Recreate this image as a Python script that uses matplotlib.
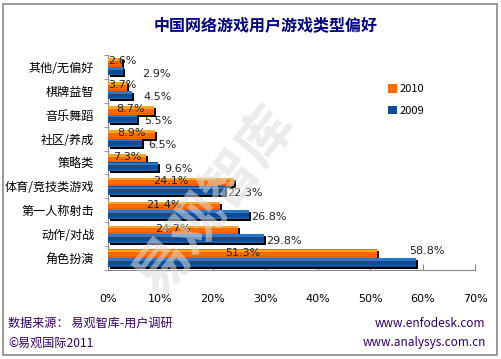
import matplotlib.pyplot as plt
import matplotlib.transforms as mtransforms
import numpy as np

plt.rcParams['font.family'] = ['Noto Sans CJK SC', 'DejaVu Sans']

categories = ["其他/无偏好", "棋牌益智", "音乐舞蹈", "社区/养成", "策略类",
              "体育/竞技类游戏", "第一人称射击", "动作/对战", "角色扮演"]
values_2010 = [2.6, 3.7, 8.7, 8.9, 7.3, 24.1, 21.4, 24.7, 51.3]
values_2009 = [2.9, 4.5, 5.5, 6.5, 9.6, 22.3, 26.8, 29.8, 58.8]
xticks_vals = [0, 10, 20, 30, 40, 50, 60, 70]

fig = plt.figure(figsize=(5.01, 3.59), dpi=100)
ax = fig.add_axes([0.2156, 0.248, 0.7325, 0.599])

y = np.arange(len(categories))
h = 0.36
shadow = ax.transData + mtransforms.ScaledTranslation(2 / 100, -2 / 100, fig.dpi_scale_trans)


def fancy_bars(yc, vals, colors, label):
    # black shadow, then main bar, then a lighter top strip and darker bottom strip
    sb = ax.barh(yc, vals, height=h, color="black", zorder=2)
    for p in sb:
        p.set_transform(shadow)
    ax.barh(yc, vals, height=h, color=colors[1], zorder=3, label=label)
    ax.barh(yc - h * 0.33, vals, height=h * 0.3, color=colors[0], zorder=4)
    ax.barh(yc + h * 0.38, vals, height=h * 0.2, color=colors[2], zorder=4)


fancy_bars(y - h / 2, values_2010, ("#F5A623", "#FF6A00", "#F25C05"), "2010")
fancy_bars(y + h / 2, values_2009, ("#2E78C8", "#0D4C94", "#1A5CA8"), "2009")

for i, v in enumerate(values_2010):
    ax.text(max(v / 2, 2.8), y[i] - h / 2 - 0.05, f"{v}%", ha="center", va="center",
            fontsize=8, color="#222222", zorder=6, family=["DejaVu Sans"])
for i, v in enumerate(values_2009):
    if v > 50:
        # the biggest label sits above its bar, next to the 2010 bar
        ax.text(v + 2, y[i] - h / 2 - 0.1, f"{v}%", ha="center", va="center",
                fontsize=8, color="#222222", zorder=6, family=["DejaVu Sans"])
    else:
        ax.text(v + max(3.8, 9 - v * 0.9), y[i] + h / 2 + 0.1, f"{v}%", ha="center", va="center",
                fontsize=8, color="#222222", zorder=6, family=["DejaVu Sans"])

ax.set_xlim(0, 70)
ax.set_ylim(len(categories) - 0.5, -0.5)
ax.set_yticks(y)
ax.set_yticklabels(categories, fontsize=8.7)
ax.set_xticks(xticks_vals)
ax.set_xticklabels([f"{t}%" for t in xticks_vals], fontsize=8, family=["DejaVu Sans"])
ax.tick_params(axis="x", direction="in", length=4, pad=17, color="#888888")
ax.tick_params(axis="y", length=0, pad=10)
ax.set_yticks(np.arange(len(categories) + 1) - 0.5, minor=True)
ax.tick_params(axis="y", which="minor", length=3, color="#888888")
for s in ["top", "right"]:
    ax.spines[s].set_visible(False)
for s in ["left", "bottom"]:
    ax.spines[s].set_color("#888888")

leg = ax.legend(loc="upper left", bbox_to_anchor=(0.735, 0.91), frameon=False, fontsize=8,
                handlelength=0.8, handleheight=0.8, handletextpad=0.3, labelspacing=1.0)

# watermark
fig.text(0.43, 0.44, "易观智库", fontsize=40, fontweight="bold", color="#DCDCDC", alpha=0.55,
         rotation=52, ha="center", va="center", zorder=10)

fig.text(0.53, 0.93, "中国网络游戏用户游戏类型偏好", fontsize=11.5, fontweight="bold",
         color="#000080", ha="center", va="center")
fig.text(0.016, 0.10, "数据来源： 易观智库-用户调研", fontsize=8.7, color="#330066", va="center")
fig.text(0.016, 0.045, "©易观国际2011", fontsize=8.7, color="#330066", va="center")
fig.text(0.968, 0.10, "www.enfodesk.com", fontsize=8.5, color="#330066", va="center", ha="right")
fig.text(0.97, 0.045, "www.analysys.com.cn", fontsize=8.5, color="#330066", va="center", ha="right")

fig.patches.append(plt.Rectangle((0.006, 0.01), 0.986, 0.98, transform=fig.transFigure,
                                 fill=False, edgecolor="#888888", linewidth=1.2))

fig.savefig("out.png", dpi=100)
